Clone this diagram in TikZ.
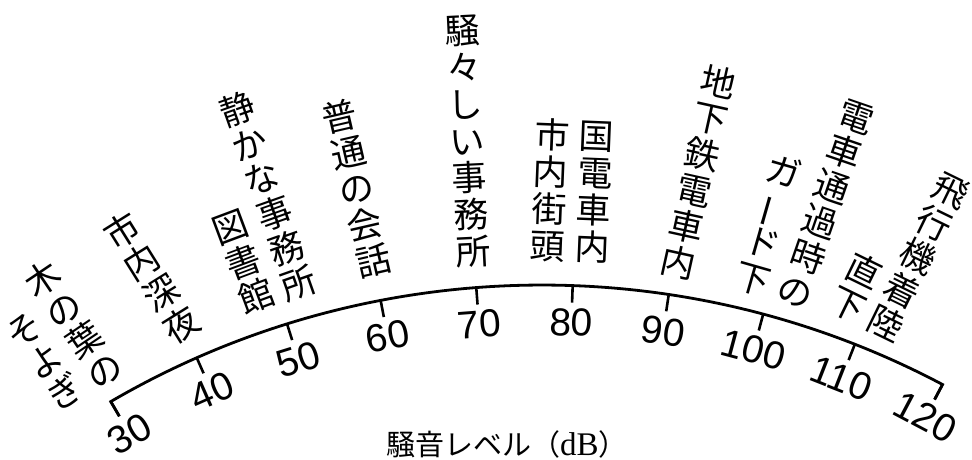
\documentclass[tikz,border=0pt]{standalone}
\usepackage{fontspec}
\setmainfont{Liberation Sans}
\newfontfamily\cjk{Noto Sans CJK JP}
\newfontfamily\serifdb{Liberation Serif}
\usepackage{graphicx}
\usetikzlibrary{calc}
\newcommand\vbar{\rotatebox[origin=c]{90}{ー}}
\begin{document}
\begin{tikzpicture}[x=1pt,y=1pt,
  col/.style={align=center,inner sep=0pt,font=\cjk\fontsize{35}{37}\selectfont},
  num/.style={inner sep=0pt,font=\fontsize{39}{42}\selectfont},
  axisline/.style={line width=2.8pt,line join=miter}]
\useasboundingbox (0,0) rectangle (972,460);
\coordinate (C) at (542,-681);
% axis with end ticks
\draw[axisline] ($(C)+(120.25:839pt)$) -- ($(C)+(120.25:856pt)$)
  arc[start angle=120.25,end angle=62.1,radius=856pt]
  -- ($(C)+(62.1:839pt)$);
% inner ticks and numbers
\foreach \v [count=\i from 0] in {30,40,...,120}{
  \pgfmathsetmacro\ang{120.25-\i*6.461}
  \draw[line width=2.6pt] ($(C)+(\ang:856pt)$) -- ($(C)+(\ang:839pt)$);
  \node[num,rotate=\ang-90] (n\v) at ($(C)+(\ang:819pt)$) {\v};
}
% labels
\node[col,rotate=34] (a1) at (73.5,136) {木\\の\\葉\\の};
\node[col,rotate=33] (a2) at (45,98.5) {そ\\よ\\ぎ};
\node[col,rotate=32] (b) at (151.5,182.5) {市\\内\\深\\夜};
\node[col,rotate=19.5] (c1) at (268,264) {静\\か\\な\\事\\務\\所};
\node[col,rotate=20.5] (c2) at (243.5,197.5) {図\\書\\館};
\node[col,rotate=13] (d) at (356.5,271.5) {普\\通\\の\\会\\話};
\node[col,rotate=2.8] (e) at (467.5,318.5) {騒\\々\\し\\い\\事\\務\\所};
\node[col,rotate=-2.3] (f1) at (594.5,267.5) {国\\電\\車\\内};
\node[col,rotate=-2.3] (f2) at (550,269.5) {市\\内\\街\\頭};
\node[col,rotate=-12.5] (g) at (698,287.5) {地\\下\\鉄\\電\\車\\内};
\node[col,rotate=-19] (h1) at (826,256) {電\\車\\通\\過\\時\\の};
\node[col,rotate=-16] (h2) at (768.5,235) {ガ\\\vbar\\ド\\下};
\node[col,rotate=-26] (i1) at (918,203) {飛\\行\\機\\着\\陸};
\node[col,rotate=-26] (i2) at (856,172) {直\\下};
% axis title
\node[inner sep=0pt,font=\cjk\fontsize{29}{31}\selectfont] (title) at (507,16)
  {騒音レベル（{\serifdb\fontsize{33}{35}\selectfont dB}）};
\end{tikzpicture}
\end{document}
